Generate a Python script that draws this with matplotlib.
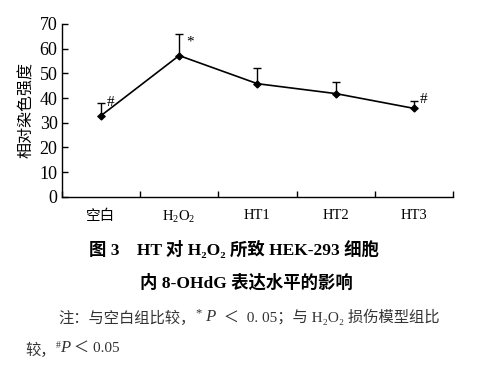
import numpy as np
import matplotlib.pyplot as plt

plt.rcParams['font.family'] = ['Liberation Serif', 'DejaVu Serif', 'Noto Sans CJK SC']
plt.rcParams['mathtext.fontset'] = 'custom'
plt.rcParams['mathtext.rm'] = 'Liberation Serif'
plt.rcParams['mathtext.it'] = 'Liberation Serif:italic'
plt.rcParams['xtick.direction'] = 'in'
plt.rcParams['ytick.direction'] = 'in'

# 数据
groups = ['空白', 'H$_2$O$_2$', 'HT1', 'HT2', 'HT3']
values = [32.8, 57.2, 45.8, 41.8, 35.8]
err_up = [5.0, 8.6, 6.5, 4.8, 3.1]
marks = ['#', '*', '', '', '#']

fig = plt.figure(figsize=(4.91, 3.79), dpi=100)
ax = fig.add_axes([0.1257, 0.481, 0.797, 0.4557])

x = np.arange(len(values)) + 0.5
ax.errorbar(x, values, yerr=[np.zeros(len(values)), err_up], color='black',
            lw=1.2, elinewidth=1.0, capsize=2.6, capthick=1.0,
            marker='D', markersize=3.5)

for xi, v, e, m in zip(x, values, err_up, marks):
    if m == '#':
        ax.annotate(m, xy=(xi, v + e), xytext=(4, -4), textcoords='offset points',
                    fontsize=11, ha='left', va='bottom')
    elif m == '*':
        ax.annotate(m, xy=(xi, v + e), xytext=(5, -10), textcoords='offset points',
                    fontsize=11, ha='left', va='bottom')

ax.set_xlim(0, 5)
ax.set_ylim(0, 70)
ax.set_yticks(np.arange(0, 71, 10))
ax.set_xticks(np.arange(0, 6))
ax.set_xticklabels([])
ax.set_xticks(x, minor=True)
ax.set_xticklabels(groups, minor=True, fontsize=10.5,
                   family=['Liberation Serif', 'Noto Sans CJK SC'])
ax.tick_params(axis='x', which='minor', length=0, pad=9)
ax.tick_params(axis='both', which='major', direction='in', length=4, width=1)
ax.tick_params(axis='y', labelsize=13, pad=3)
ax.spines['top'].set_visible(False)
ax.spines['right'].set_visible(False)
for s in ['left', 'bottom']:
    ax.spines[s].set_linewidth(1.0)

ax.set_ylabel('相对染色强度', fontsize=11.5, family='Noto Sans CJK SC')
ax.yaxis.set_label_coords(-0.068, 0.5)

# 图题
fig.text(234 / 491, 1 - 250 / 379, '图 3　HT 对 H₂O₂ 所致 HEK-293 细胞',
         ha='center', va='center', fontsize=12.5, weight='bold')
fig.text(246 / 491, 1 - 283 / 379, '内 8-OHdG 表达水平的影响',
         ha='center', va='center', fontsize=12.5, weight='bold')

# 注
c = '#333333'
t1 = fig.text(58 / 491, 1 - 318 / 379, '注：与空白组比较，', ha='left', va='center',
              fontsize=11, color=c)
t2 = ax.annotate('*', xy=(1, 0.8), xycoords=t1, fontsize=9, va='center', color=c)
t3 = ax.annotate(' P', xy=(1, 0.2), xycoords=t2, fontsize=12, va='center',
                 style='italic', color=c)
t4 = ax.annotate('  ＜  0. 05；与 H₂O₂ 损伤模型组比', xy=(1, 0.5), xycoords=t3,
                 va='center', fontsize=11, color=c)
u1 = fig.text(25 / 491, 1 - 350 / 379, '较，', ha='left', va='center',
              fontsize=11, color=c)
u2 = ax.annotate('#', xy=(1, 0.8), xycoords=u1, fontsize=7, va='center', color=c)
u3 = ax.annotate('P', xy=(1, 0.2), xycoords=u2, fontsize=12, va='center',
                 style='italic', color=c)
u4 = ax.annotate(' ＜ 0.05', xy=(1, 0.5), xycoords=u3, va='center',
                 fontsize=11, color=c)

plt.savefig('out.png', dpi=100)
